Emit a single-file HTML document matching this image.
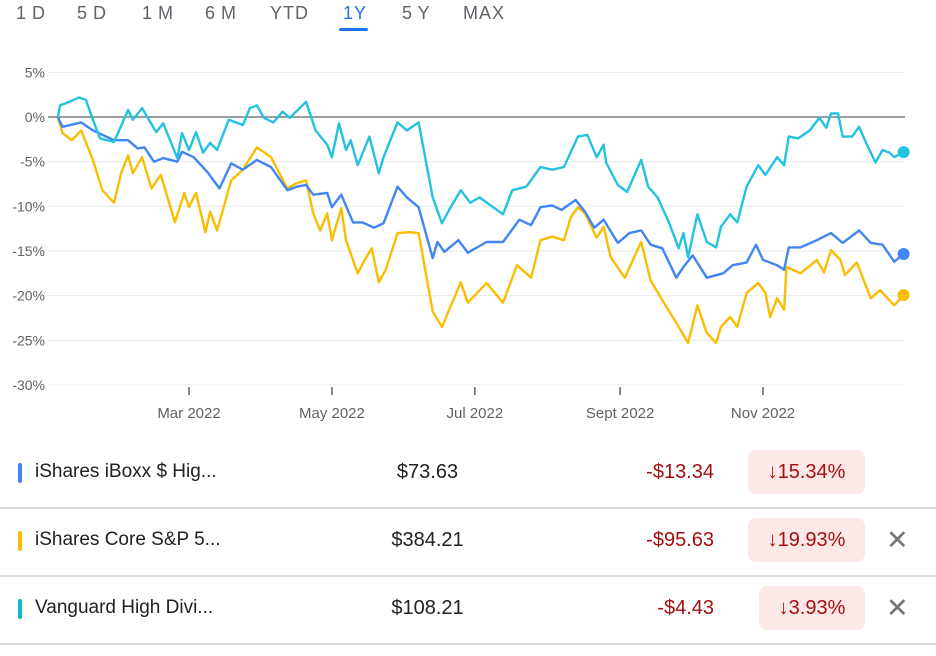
<!DOCTYPE html>
<html><head><meta charset="utf-8"><style>
body{margin:0;width:936px;height:656px;background:#fff;font-family:"Liberation Sans",Arial,sans-serif;overflow:hidden;position:relative}
.tab{position:absolute;top:3px;font-size:18px;color:#5f6368;letter-spacing:1px;word-spacing:-1px}
.row{position:absolute;left:0;width:936px;height:66px;border-bottom:2px solid #dadce0}
.bar{position:absolute;left:18px;top:22px;width:4px;height:20px;border-radius:2px}
.name{position:absolute;left:35px;top:20px;font-size:19px;color:#202124}
.price{position:absolute;left:340px;width:175px;text-align:center;top:20px;font-size:20px;color:#202124}
.chg{position:absolute;right:222px;top:20px;font-size:20px;color:#a50e0e}
.badge{position:absolute;top:9px;height:44px;background:#fce8e6;border-radius:8px;color:#a50e0e;font-size:20px;line-height:44px;text-align:center}
.x{position:absolute;left:886px;top:16px;font-size:27px;color:#70757a;line-height:30px}
</style></head><body>
<div>
<span class="tab" style="left:16px">1 D</span>
<span class="tab" style="left:77px">5 D</span>
<span class="tab" style="left:142px">1 M</span>
<span class="tab" style="left:205px">6 M</span>
<span class="tab" style="left:270px">YTD</span>
<span class="tab" style="left:343px;color:#1a73e8">1Y</span>
<span class="tab" style="left:402px">5 Y</span>
<span class="tab" style="left:463px">MAX</span>
<div style="position:absolute;left:339px;top:28px;width:29px;height:3px;background:#1a73e8;border-radius:2px"></div>
</div>
<svg id="chart" width="936" height="440" style="position:absolute;left:0;top:0"></svg>

<div class="row" style="top:441px">
<div class="bar" style="background:#4285f4"></div>
<div class="name">iShares iBoxx $ Hig...</div>
<div class="price">$73.63</div>
<div class="chg">-$13.34</div>
<div class="badge" style="left:748px;width:117px">↓15.34%</div>
</div>
<div class="row" style="top:509px">
<div class="bar" style="background:#fbbc04"></div>
<div class="name">iShares Core S&amp;P 5...</div>
<div class="price">$384.21</div>
<div class="chg">-$95.63</div>
<div class="badge" style="left:748px;width:117px">↓19.93%</div>
<div class="x">✕</div>
</div>
<div class="row" style="top:577px">
<div class="bar" style="background:#12b5cb"></div>
<div class="name">Vanguard High Divi...</div>
<div class="price">$108.21</div>
<div class="chg">-$4.43</div>
<div class="badge" style="left:759px;width:106px">↓3.93%</div>
<div class="x">✕</div>
</div>

<script>
const yTicks=[5,0,-5,-10,-15,-20,-25,-30];
const xTickLabels=["Mar 2022","May 2022","Jul 2022","Sept 2022","Nov 2022"];
const xTickDays=[59,120,181,243,304];
const cyanDays=[3,4,8,12,15,18,21,27,33,35,39,45,48,54,56,59,62,65,68,71,76,82,85,88,91,95,99,102,109,113,118,120,123,126,128,131,136,140,142,148,152,157,163,167,170,175,179,183,193,197,203,209,214,219,225,229,233,236,237,242,246,252,255,259,264,268,270,272,276,280,284,286,290,293,297,302,305,310,313,315,319,324,328,331,333,336,338,342,345,348,352,355,358,360,364];
const cyanVals=[0,1.3,1.7,2.2,1.9,-0.3,-2.4,-2.8,0.8,-0.3,1.0,-1.7,-0.7,-4.6,-1.8,-3.7,-1.7,-4.0,-2.9,-3.7,-0.3,-0.9,1.0,1.3,-0.1,-0.6,0.6,-0.1,1.7,-1.5,-3.1,-4.5,-0.7,-3.7,-2.6,-5.4,-2.2,-6.3,-4.5,-0.6,-1.5,-0.6,-9.0,-11.9,-10.4,-8.2,-9.6,-9.0,-10.9,-8.2,-7.8,-5.6,-5.9,-5.6,-2.2,-2.0,-4.5,-3.1,-5.1,-7.6,-8.4,-4.8,-7.8,-9.0,-11.9,-14.7,-13.0,-15.7,-10.9,-14.0,-14.6,-12.3,-10.9,-11.8,-7.8,-5.4,-6.5,-4.5,-5.4,-2.2,-2.4,-1.5,-0.1,-1.2,0.4,0.4,-2.2,-2.2,-1.1,-2.9,-5.1,-3.7,-4.0,-4.5,-3.93];
const blueDays=[3,5,13,18,27,33,37,40,44,48,54,56,61,67,72,77,82,88,94,101,105,109,112,118,120,124,129,133,138,142,148,152,157,163,165,168,174,178,186,193,200,205,209,214,218,224,228,232,236,242,247,252,256,261,267,270,274,280,287,291,297,301,304,310,313,315,320,327,333,338,345,350,355,360,364];
const blueVals=[0,-1.1,-0.6,-1.5,-2.6,-2.6,-3.5,-3.4,-5.0,-4.6,-5.0,-3.9,-4.5,-6.2,-8.0,-5.2,-5.9,-4.8,-5.6,-8.2,-7.8,-7.6,-8.7,-8.5,-10.1,-8.7,-11.8,-11.8,-12.4,-11.9,-7.8,-9.0,-10.1,-15.8,-14.0,-15.1,-13.8,-15.2,-14.0,-14.0,-11.5,-12.1,-10.1,-9.9,-10.4,-9.3,-10.6,-12.4,-11.5,-14.1,-13.0,-12.7,-14.3,-14.7,-18.0,-16.8,-15.5,-18.0,-17.5,-16.6,-16.3,-14.3,-16.0,-16.6,-17.1,-14.6,-14.6,-13.8,-13.0,-14.1,-12.7,-14.1,-14.3,-16.2,-15.34];
const yellowDays=[3,5,9,13,18,22,27,30,33,35,39,43,47,53,57,59,62,66,68,71,77,82,88,94,98,101,105,109,112,115,118,120,124,126,131,134,137,140,143,148,153,157,163,167,170,175,178,186,193,199,205,209,214,219,222,225,228,233,236,239,245,252,256,261,268,272,276,280,284,286,290,293,297,302,305,307,310,313,314,320,327,330,333,337,339,344,350,354,360,364];
const yellowVals=[0,-1.8,-2.6,-1.5,-4.8,-8.2,-9.6,-6.3,-4.3,-6.3,-4.5,-8.0,-6.5,-11.8,-8.5,-10.1,-8.5,-12.9,-10.6,-12.7,-7.1,-5.9,-3.4,-4.5,-6.5,-8.0,-7.4,-7.1,-10.8,-12.7,-10.8,-13.8,-10.2,-13.8,-17.5,-16.0,-14.7,-18.5,-17.1,-13.0,-12.9,-13.0,-21.8,-23.5,-21.6,-18.5,-20.8,-18.6,-20.8,-16.6,-18.0,-13.8,-13.4,-13.8,-11.2,-10.1,-10.8,-13.5,-12.3,-15.7,-18.0,-14.0,-18.3,-20.5,-23.5,-25.3,-21.1,-24.2,-25.3,-23.5,-22.4,-23.5,-19.7,-18.6,-19.7,-22.4,-20.3,-21.6,-16.8,-17.5,-16.0,-17.4,-14.9,-16.0,-17.7,-16.3,-20.3,-19.4,-21.1,-19.93];

const svg=document.getElementById('chart');
const NS='http://www.w3.org/2000/svg';
const X=d=>189+(d-59)*2.343;
const Y=v=>117-v*8.93;
function mk(t,a){const e=document.createElementNS(NS,t);for(const k in a)e.setAttribute(k,a[k]);svg.appendChild(e);return e;}
yTicks.forEach(v=>{
  const g=mk('line',{x1:48,x2:905,y1:Y(v),y2:Y(v),stroke:v===0?'#5f6368':'#e8eaed','stroke-width':v===0?1.2:1});
  
  
  const t=mk('text',{x:45,y:Y(v)+5,'text-anchor':'end','font-size':14,fill:'#5f6368','font-family':'Liberation Sans, sans-serif'});
  t.textContent=v+'%';
  
  
});
xTickDays.forEach((d,i)=>{
  const l=mk('line',{x1:X(d),x2:X(d),y1:387,y2:395,stroke:'#5f6368','stroke-width':1.5});
  
  
  const t=mk('text',{x:X(d),y:418,'text-anchor':'middle','font-size':15,fill:'#5f6368','font-family':'Liberation Sans, sans-serif'});
  t.textContent=xTickLabels[i];
  
  
});
function series(days,vals,color,name){
  const p=mk('polyline',{points:days.map((d,i)=>X(d).toFixed(1)+','+Y(vals[i]).toFixed(1)).join(' '),fill:'none',stroke:color,'stroke-width':2.4,'stroke-linejoin':'round'});
  
  
  const n=days.length-1;
  const c=mk('circle',{cx:X(days[n]),cy:Y(vals[n]),r:6,fill:color});
  
  
}
series(yellowDays,yellowVals,'#fbbc04','sp500');
series(blueDays,blueVals,'#4285f4','iboxx');
series(cyanDays,cyanVals,'#24c1e0','vanguard');
</script>
</body></html>
